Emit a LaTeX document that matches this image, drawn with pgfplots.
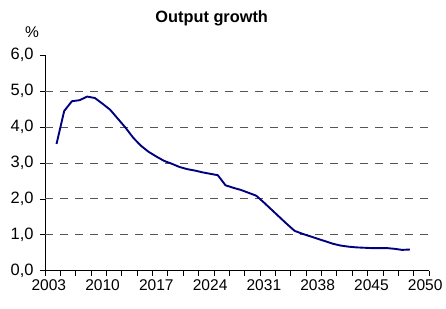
\documentclass[border=0pt]{standalone}
\usepackage{pgfplots}
\pgfplotsset{compat=1.18}
\usepackage{fontspec}
\setmainfont{Liberation Sans}
\definecolor{navyline}{RGB}{0,0,128}
\definecolor{gridgray}{RGB}{85,85,85}
\begin{document}
\begin{tikzpicture}
\useasboundingbox (-45bp,-38.3bp) rectangle (401bp,270.7bp);
\begin{axis}[
  at={(0,0)}, anchor=south west,
  scale only axis, width=384bp, height=215.4bp,
  xmin=-0.5, xmax=49.5, ymin=0, ymax=6,
  axis x line=bottom, axis y line=left,
  axis line style={-, black, line width=0.8bp},
  tick align=outside,
  major tick length=5bp, minor tick length=5bp,
  every tick/.style={black, line width=0.8bp},
  xtick={-0.5,1.5,...,49.5}, xticklabels={},
  extra x ticks={0,7,14,21,28,35,42,49},
  extra x tick labels={2003,2010,2017,2024,2031,2038,2045,2050},
  extra x tick style={tick style={draw=none}},
  ytick={0,1,...,6},
  extra y ticks={1,2,3,4,5},
  extra y tick labels={},
  extra y tick style={grid=major, tick style={draw=none}},
  major grid style={gridgray, dash pattern=on 8bp off 7bp, line width=0.9bp},
  /pgf/number format/.cd, fixed, fixed zerofill, precision=1, use comma, assume math mode=true,
  /pgfplots/.cd,
  x tick label style={font=\fontsize{15.6}{17}\selectfont},
  y tick label style={font=\fontsize{16.5}{18}\selectfont, xshift=-3bp},
  clip=false,
]
\addplot[navyline, line width=1.9bp, line join=round] coordinates {
(1,3.53) (2,4.45) (3,4.72) (4,4.75) (5,4.85) (6,4.81) (7,4.65) (8,4.48) (9,4.23) (10,3.98)
(11,3.70) (12,3.48) (13,3.31) (14,3.18) (15,3.06) (16,2.98) (17,2.89) (18,2.83) (19,2.79) (20,2.74)
(21,2.70) (22,2.66) (23,2.38) (24,2.31) (25,2.25) (26,2.17) (27,2.09) (28,1.90) (29,1.70) (30,1.50)
(31,1.30) (32,1.11) (33,1.03) (34,0.96) (35,0.89) (36,0.82) (37,0.75) (38,0.70) (39,0.67) (40,0.65)
(41,0.64) (42,0.63) (43,0.63) (44,0.63) (45,0.61) (46,0.58) (47,0.59)
};
\end{axis}
\node[font=\bfseries\fontsize{16.4}{19}\selectfont] at (166.7bp,252.8bp) {Output growth};
\node[font=\fontsize{15.6}{17}\selectfont] at (-13bp,238.7bp) {\%};
\end{tikzpicture}
\end{document}
